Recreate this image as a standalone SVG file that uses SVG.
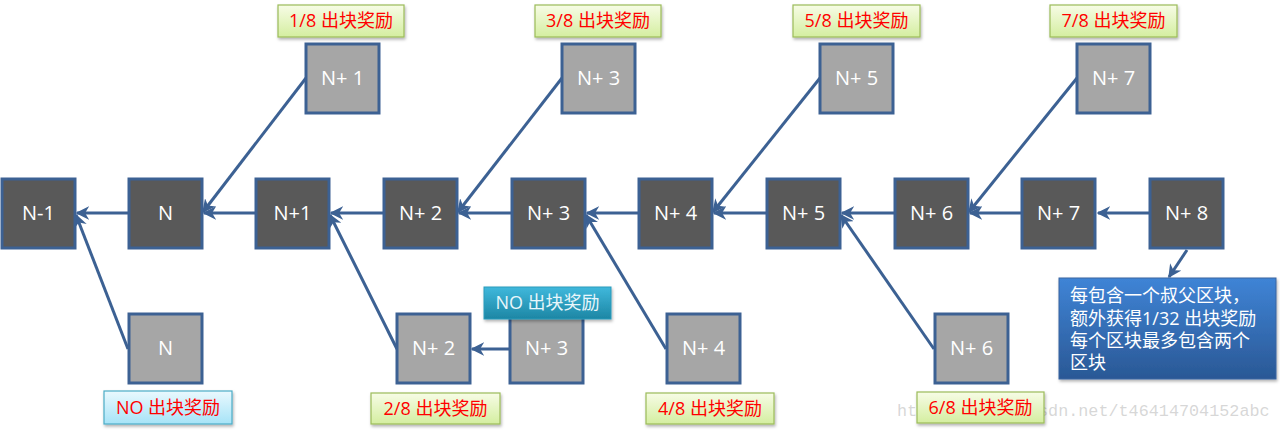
<svg xmlns="http://www.w3.org/2000/svg" width="1280" height="430" viewBox="0 0 1280 430">
<defs>
<linearGradient id="gGreen" x1="0" y1="0" x2="0" y2="1"><stop offset="0" stop-color="#f7fce6"/><stop offset="1" stop-color="#d4eea0"/></linearGradient>
<linearGradient id="gLight" x1="0" y1="0" x2="0" y2="1"><stop offset="0" stop-color="#eaf9fe"/><stop offset="1" stop-color="#a6e3f7"/></linearGradient>
<linearGradient id="gTeal" x1="0" y1="0" x2="0" y2="1"><stop offset="0" stop-color="#3fb8dc"/><stop offset="1" stop-color="#1d86a4"/></linearGradient>
<linearGradient id="gBlue" x1="0" y1="0" x2="0" y2="1"><stop offset="0" stop-color="#3f84d6"/><stop offset="1" stop-color="#2a5895"/></linearGradient>
<filter id="sh" x="-10%" y="-10%" width="130%" height="140%"><feDropShadow dx="1" dy="2" stdDeviation="1.5" flood-color="#000" flood-opacity="0.3"/></filter>
<marker id="ah" viewBox="0 0 10 10" refX="9" refY="5" markerWidth="4.5" markerHeight="4.5" orient="auto-start-reverse" markerUnits="strokeWidth"><path d="M0,0 L10,5 L0,10 L3,5 z" fill="#3c6193"/></marker>
</defs>
<style>
.dk{fill:#595959;stroke:#3c6193;stroke-width:3}
.lt{fill:#a6a6a6;stroke:#3c6193;stroke-width:3}
.nt{fill:#fff;font-family:"Open Sans","Liberation Sans",sans-serif;font-size:20px;text-anchor:middle}
.lg{fill:url(#gGreen);stroke:#9bbb59;stroke-width:1.2;filter:url(#sh)}
.ll{fill:url(#gLight);stroke:#4bacc6;stroke-width:1.2;filter:url(#sh)}
.rt{fill:#ff0000;font-family:"Open Sans","Noto Sans CJK SC",sans-serif;font-size:18px;text-anchor:middle}
.wt{fill:#fff;font-family:"Open Sans","Noto Sans CJK SC",sans-serif;font-size:18px}
.cn{stroke:#3c6193;stroke-width:3;fill:none;marker-end:url(#ah)}
</style>
<g id="connectors">
<line class="cn" x1="128" y1="213" x2="77" y2="213"/>
<line class="cn" x1="256" y1="213" x2="204" y2="213"/>
<line class="cn" x1="384" y1="213" x2="331" y2="213"/>
<line class="cn" x1="511" y1="213" x2="459" y2="213"/>
<line class="cn" x1="639" y1="213" x2="587" y2="213"/>
<line class="cn" x1="767" y1="213" x2="714" y2="213"/>
<line class="cn" x1="894" y1="213" x2="842" y2="213"/>
<line class="cn" x1="1022" y1="213" x2="970" y2="213"/>
<line class="cn" x1="1150" y1="213" x2="1098" y2="213"/>
<line class="cn" x1="306" y1="78" x2="203" y2="212"/>
<line class="cn" x1="562" y1="78" x2="458" y2="212"/>
<line class="cn" x1="820" y1="78" x2="713" y2="212"/>
<line class="cn" x1="1077" y1="78" x2="969" y2="212"/>
<line class="cn" x1="128" y1="349" x2="76" y2="215"/>
<line class="cn" x1="397" y1="349" x2="330" y2="215"/>
<line class="cn" x1="666" y1="349" x2="586" y2="215"/>
<line class="cn" x1="934" y1="349" x2="841" y2="215"/>
<line class="cn" x1="510" y1="349" x2="472" y2="349"/>
<line class="cn" x1="1187" y1="250" x2="1169" y2="277"/>
</g>
<g id="n-minus-1"><rect class="dk" x="2" y="179" width="73" height="69"/><text class="nt" x="38.5" y="220">N-1</text></g>
<g id="n"><rect class="dk" x="129" y="179" width="73" height="69"/><text class="nt" x="165.5" y="220">N</text></g>
<g id="n1"><rect class="dk" x="256" y="179" width="73" height="69"/><text class="nt" x="292.5" y="220">N+1</text></g>
<g id="n2"><rect class="dk" x="384" y="179" width="73" height="69"/><text class="nt" x="420.5" y="220">N+ 2</text></g>
<g id="n3"><rect class="dk" x="512" y="179" width="73" height="69"/><text class="nt" x="548.5" y="220">N+ 3</text></g>
<g id="n4"><rect class="dk" x="639" y="179" width="73" height="69"/><text class="nt" x="675.5" y="220">N+ 4</text></g>
<g id="n5"><rect class="dk" x="767" y="179" width="73" height="69"/><text class="nt" x="803.5" y="220">N+ 5</text></g>
<g id="n6"><rect class="dk" x="895" y="179" width="73" height="69"/><text class="nt" x="931.5" y="220">N+ 6</text></g>
<g id="n7"><rect class="dk" x="1022" y="179" width="73" height="69"/><text class="nt" x="1058.5" y="220">N+ 7</text></g>
<g id="n8"><rect class="dk" x="1150" y="179" width="73" height="69"/><text class="nt" x="1186.5" y="220">N+ 8</text></g>
<g id="u1"><rect class="lt" x="306" y="44" width="73" height="69"/><text class="nt" x="342.5" y="85">N+ 1</text></g>
<g id="u3"><rect class="lt" x="562" y="44" width="73" height="69"/><text class="nt" x="598.5" y="85">N+ 3</text></g>
<g id="u5"><rect class="lt" x="820" y="44" width="73" height="69"/><text class="nt" x="856.5" y="85">N+ 5</text></g>
<g id="u7"><rect class="lt" x="1077" y="44" width="73" height="69"/><text class="nt" x="1113.5" y="85">N+ 7</text></g>
<g id="l0"><rect class="lt" x="129" y="314" width="73" height="69"/><text class="nt" x="165.5" y="355">N</text></g>
<g id="l2"><rect class="lt" x="397" y="314" width="73" height="69"/><text class="nt" x="433.5" y="355">N+ 2</text></g>
<g id="l3"><rect class="lt" x="510" y="314" width="73" height="69"/><text class="nt" x="546.5" y="355">N+ 3</text></g>
<g id="l4"><rect class="lt" x="667" y="314" width="73" height="69"/><text class="nt" x="703.5" y="355">N+ 4</text></g>
<g id="l6"><rect class="lt" x="935" y="314" width="73" height="69"/><text class="nt" x="971.5" y="355">N+ 6</text></g>
<g id="lab18"><rect class="lg" x="278" y="5" width="126" height="32"/><text class="rt" x="341" y="27">1/8 出块奖励</text></g>
<g id="lab38"><rect class="lg" x="535" y="5" width="126" height="32"/><text class="rt" x="598" y="27">3/8 出块奖励</text></g>
<g id="lab58"><rect class="lg" x="793" y="5" width="127" height="32"/><text class="rt" x="856.5" y="27">5/8 出块奖励</text></g>
<g id="lab78"><rect class="lg" x="1050" y="5" width="127" height="32"/><text class="rt" x="1113.5" y="27">7/8 出块奖励</text></g>
<g id="lab28"><rect class="lg" x="371" y="393" width="129" height="31"/><text class="rt" x="435.5" y="415">2/8 出块奖励</text></g>
<g id="lab48"><rect class="lg" x="646" y="393" width="128" height="31"/><text class="rt" x="710" y="415">4/8 出块奖励</text></g>
<text x="897" y="416" fill="#b0b0b0" fill-opacity="0.5" font-family="Liberation Mono, monospace" font-size="16.8px">https://blog.csdn.net/t46414704152abc</text>
<g id="lab68"><rect class="lg" x="917" y="392" width="127" height="31"/><text class="rt" x="980.5" y="414">6/8 出块奖励</text></g>
<g id="labNO1"><rect class="ll" x="104" y="391" width="128" height="33"/><text class="rt" x="168" y="414">NO 出块奖励</text></g>
<g id="labNO2"><rect x="484" y="287" width="127" height="32" fill="url(#gTeal)" stroke="#2a9bbb" stroke-width="1" filter="url(#sh)"/><text class="rt" x="547.5" y="309" style="fill:#e8f6fb">NO 出块奖励</text></g>
<g id="callout"><rect x="1059" y="278" width="217" height="101" fill="url(#gBlue)" stroke="#3a65a0" stroke-width="1" filter="url(#sh)"/>
<text class="wt" x="1070" y="302">每包含一个叔父区块，</text>
<text class="wt" x="1070" y="325">额外获得1/32 出块奖励</text>
<text class="wt" x="1070" y="347">每个区块最多包含两个</text>
<text class="wt" x="1070" y="369">区块</text>
</g>
</svg>
